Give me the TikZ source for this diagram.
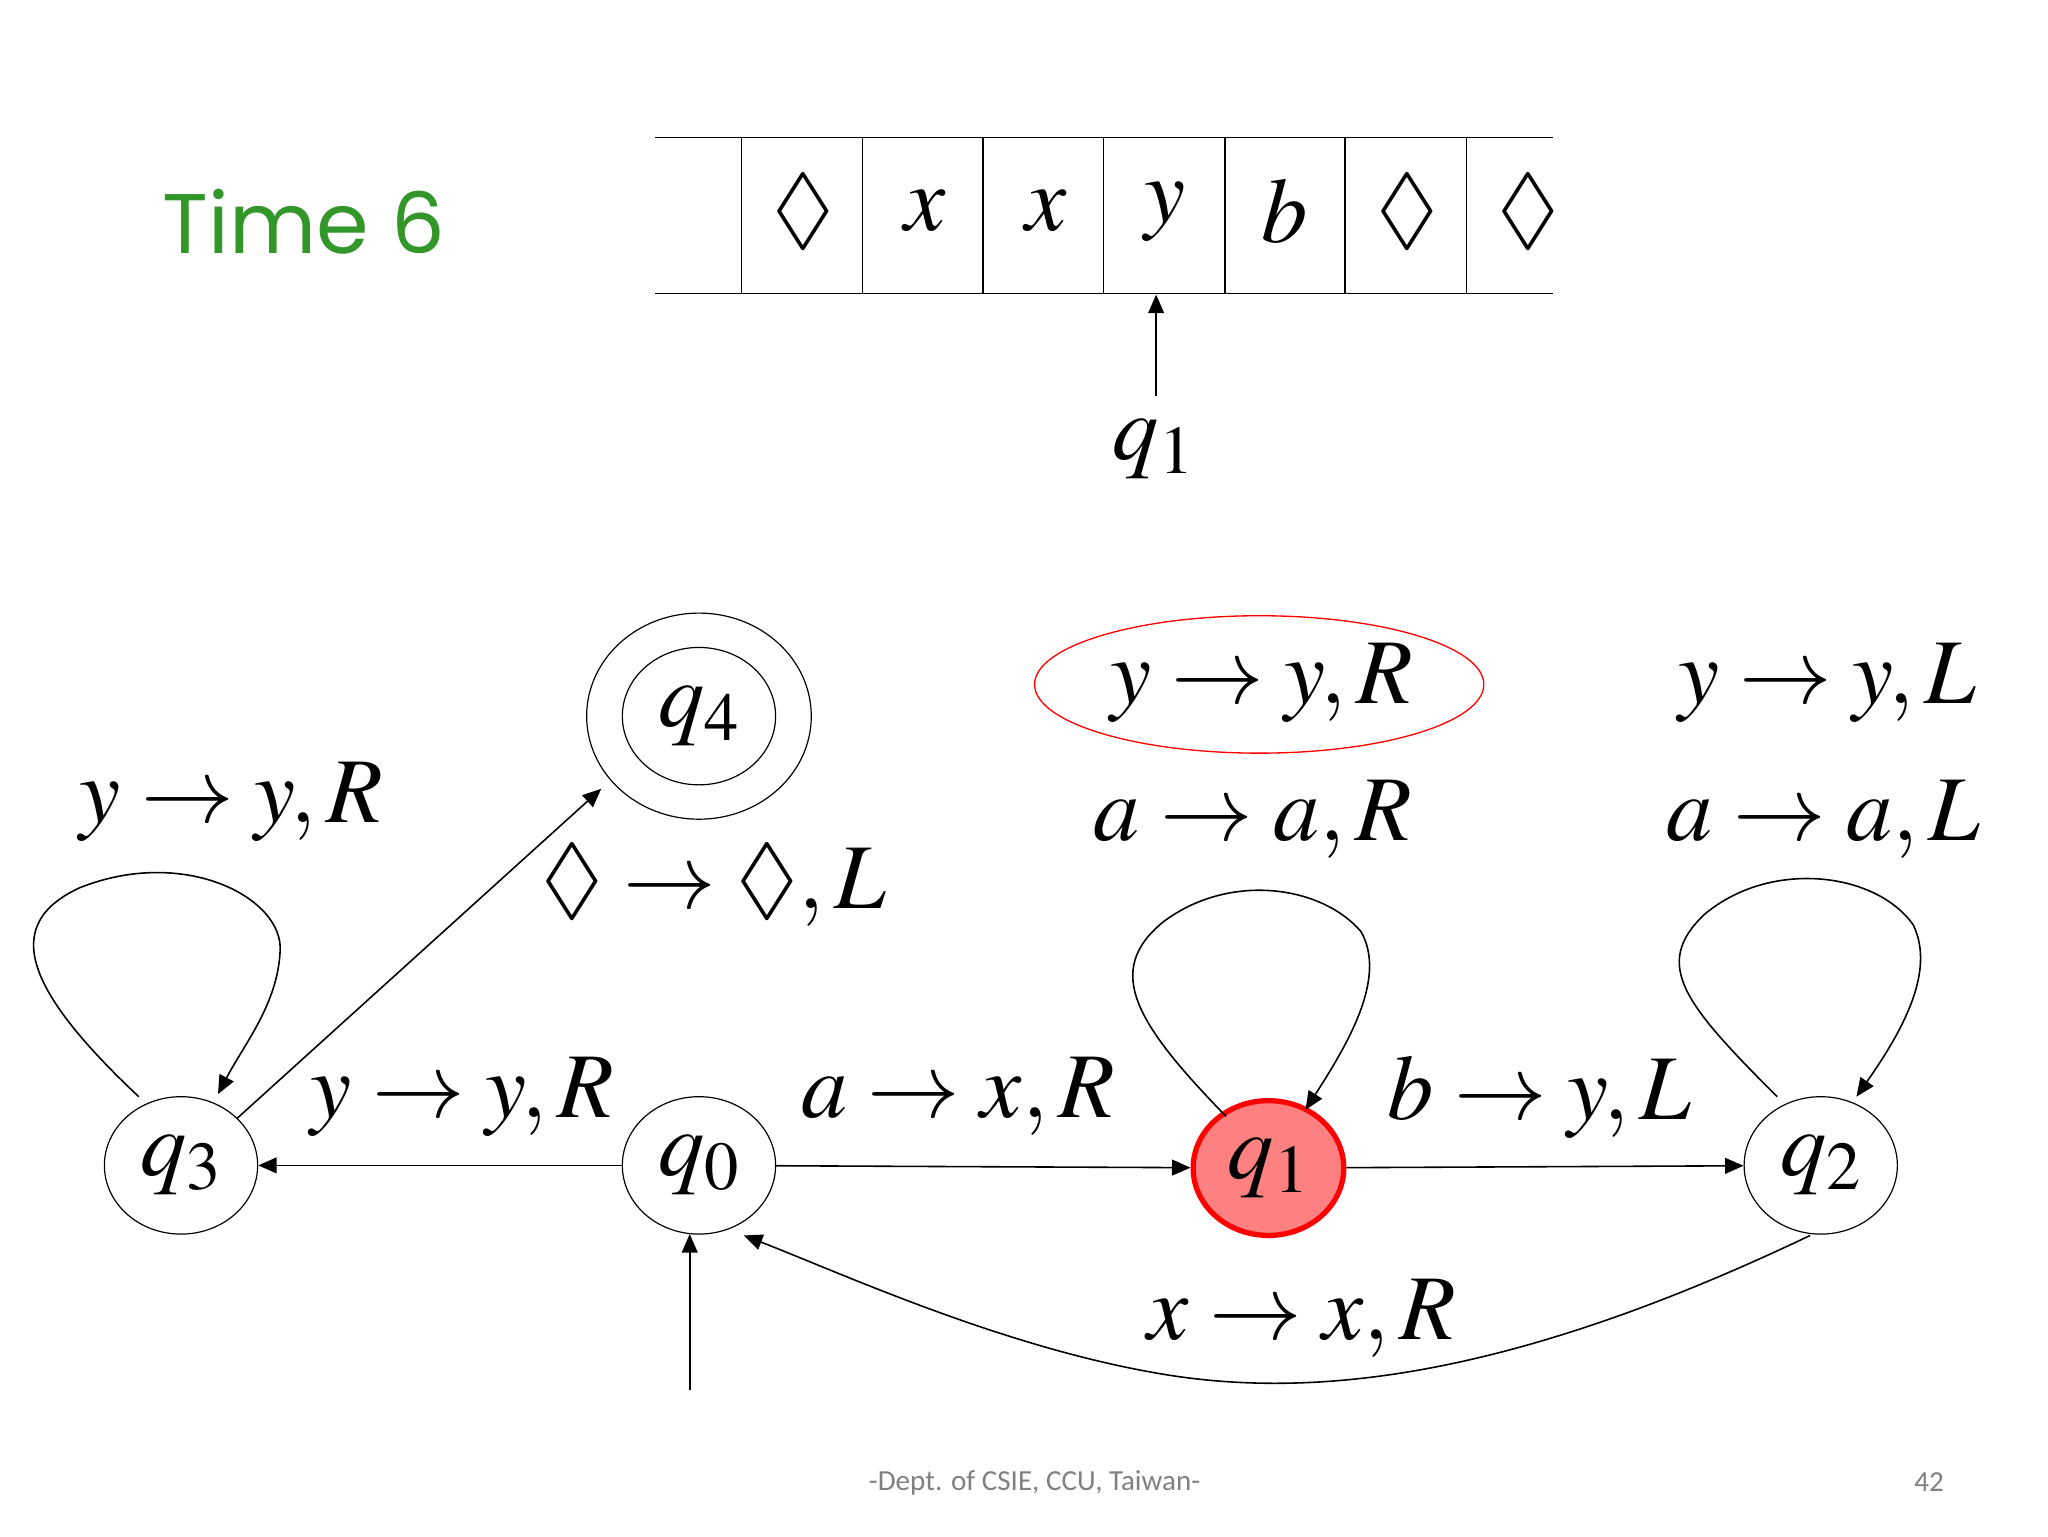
\documentclass[tikz,border=0pt]{standalone}
\usepackage{amssymb}
\usepackage{mathptmx}
\usepackage{fontspec}
\newfontfamily\timefont{Poppins}
\newfontfamily\footfont{Carlito}
\usetikzlibrary{arrows.meta,shapes.geometric}
\definecolor{tgreen}{RGB}{50,150,40}
\begin{document}
\begin{tikzpicture}[x=1pt,y=-1pt,
  st/.style={draw,ellipse,minimum width=116pt,minimum height=104pt,inner sep=0pt,line width=0.9pt},
  lbl/.style={font=\fontsize{70}{80}\selectfont},
  arr/.style={-{Triangle[length=14pt,width=12pt]},line width=1.2pt}]
\useasboundingbox (0,0) rectangle (1550,1162.5);
\node[font=\timefont\fontsize{64}{70}\selectfont,text=tgreen] (time) at (230,168) {Time 6};
% tape
\draw[line width=1pt] (496,104) -- (1175,104) (496,222) -- (1175,222);
\foreach \x in {561,653,744,835,927,1018,1110} \draw[line width=1pt] (\x,104) -- (\x,222);
\foreach \x/\t in {608/\Diamond,700/x,792/x,882/y,972/b,1065/\Diamond,1157/\Diamond}
  \node[lbl] at (\x,160) {$\t$};
\node[lbl] (hq) at (873,340) {$q_1$};
\coordinate (hs) at (875,300); \coordinate (he) at (875,223);
\draw[arr] (hs) -- (he);
% states
\node[st] (q3) at (137,882) {};
\node[lbl] at (q3) {$q_3$};
\node[st] (q0) at (529,882) {};
\node[lbl] at (q0) {$q_0$};
\node[st,draw=red,fill=red!50,line width=4pt,minimum width=114pt,minimum height=102pt] (q1) at (960,884) {};
\node[lbl] at (q1) {$q_1$};
\node[st] (q2) at (1378,882) {};
\node[lbl] at (q2) {$q_2$};
\node[st,minimum width=170pt,minimum height=156pt] (q4) at (529,542) {};
\node[st] (q4i) at (529,542) {};
\node[lbl] at (q4) {$q_4$};
% edges
\draw[arr] (q0) -- (q3);
\draw[arr] (q0) -- (q1);
\draw[arr] (q1) -- (q2);
\draw[arr] (q3.40) -- (455,597);
\coordinate (s0) at (522,1052);
\draw[arr] (s0) -- (522,934);
\draw[arr] (1370,935) .. controls (1150,1040) and (1000,1060) .. (880,1040) .. controls (760,1020) and (640,965) .. (563,935);
\draw[arr] (105,830) .. controls (20,750) and (0,700) .. (60,672) .. controls (140,640) and (215,680) .. (212,720) .. controls (210,760) and (185,790) .. (165,828);
\draw[arr] (928,845) .. controls (860,775) and (835,735) .. (880,698) .. controls (930,660) and (1000,670) .. (1030,705) .. controls (1050,740) and (1020,790) .. (988,840);
\draw[arr] (1345,830) .. controls (1275,760) and (1250,730) .. (1290,692) .. controls (1340,650) and (1420,660) .. (1448,700) .. controls (1465,735) and (1440,780) .. (1405,830);
% labels
\node[lbl] at (175,607) {$y\rightarrow y,R$};
\node[lbl] at (540,670) {$\Diamond\rightarrow\Diamond,L$};
\node[lbl] at (350,830) {$y\rightarrow y,R$};
\node[lbl] at (725,830) {$a\rightarrow x,R$};
\node[lbl] (hl) at (955,517) {$y\rightarrow y,R$};
\draw[red,line width=1pt] (953,518) ellipse (170 and 52);
\node[lbl] at (948,620) {$a\rightarrow a,R$};
\node[lbl] at (1383,517) {$y\rightarrow y,L$};
\node[lbl] at (1380,620) {$a\rightarrow a,L$};
\node[lbl] at (1165,830) {$b\rightarrow y,L$};
\node[lbl] at (985,998) {$x\rightarrow x,R$};
\node[font=\footfont\fontsize{22}{26}\selectfont,text=gray] at (783,1122) {-Dept. of CSIE, CCU, Taiwan-};
\node[font=\footfont\fontsize{22}{26}\selectfont,text=gray] at (1460,1122) {42};
\end{tikzpicture}
\end{document}
